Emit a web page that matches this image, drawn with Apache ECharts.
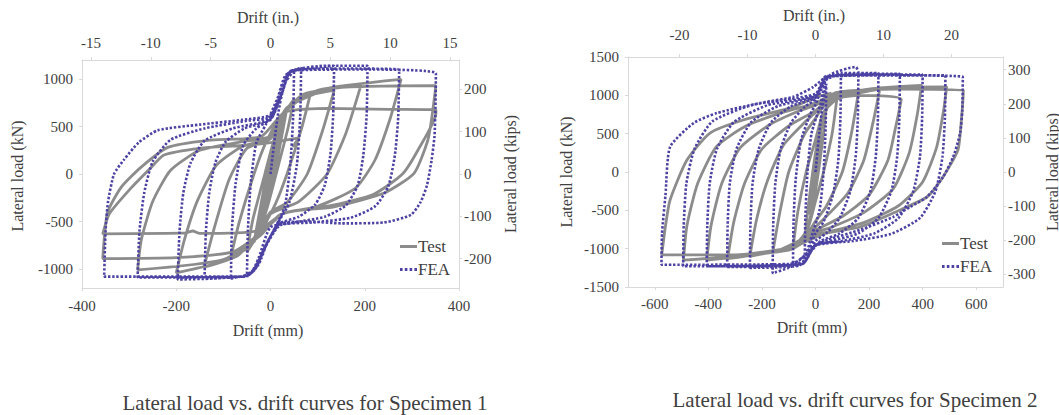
<!DOCTYPE html>
<html>
<head>
<meta charset="utf-8">
<script src="https://cdn.jsdelivr.net/npm/echarts@6/dist/echarts.min.js"></script>
<style>
  html, body { margin: 0; padding: 0; background: #ffffff; }
  #chart { width: 1059px; height: 415px; }
</style>
</head>
<body>
<div id="chart"></div>
<script>
// Lateral load vs. drift hysteresis data, points are [drift (mm), lateral load (kN)]

// Specimen 1, test record
const spec1Test = [
  [0, 0], [8, 190], [15, 360], [9, 170], [0, -40], [-8, -200], [-15, -370], [-9, -170], [0, 40],
  [12, 300], [25, 560], [16, 280], [0, -110], [-12, -330], [-25, -580], [-16, -280], [0, 110],
  [18, 440], [35, 700], [24, 400], [0, -200], [-18, -470], [-35, -720], [-24, -420], [0, 200],
  [25, 600], [50, 790], [36, 460], [12, 0], [-5, -320], [-25, -620], [-50, -820], [-37, -470], [-12, 0], [5, 320], [25, 620],
  [60, 780], [84, 830], [66, 480], [35, 0], [10, -320], [-25, -640], [-55, -800], [-84, -870], [-66, -500], [-35, 0], [-10, 330], [20, 600],
  [60, 800], [135, 880], [112, 480], [78, 0], [35, -300], [0, -400], [-30, -640], [-70, -860], [-141, -980], [-120, -580], [-88, -60], [-50, 270], [0, 370], [25, 620],
  [70, 840], [192, 935], [160, 430], [120, 0], [60, -290], [0, -420], [-30, -650], [-90, -900], [-200, -1040], [-182, -680], [-155, -280], [-115, 90], [-60, 290], [0, 380], [30, 660],
  [100, 880], [277, 995], [255, 600], [222, 150], [180, -150], [100, -340], [20, -430], [-20, -640], [-100, -900], [-282, -1010], [-274, -690], [-250, -290], [-212, 40], [-150, 250], [-60, 340], [0, 400], [35, 700],
  [130, 900], [351, 930], [343, 620], [334, 358], [305, 10], [241, -200], [135, -345], [30, -410], [-20, -620], [-80, -820], [-200, -880], [-356, -890], [-346, -410], [-317, -140], [-275, 70], [-218, 280], [-133, 355], [-20, 395], [30, 650],
  [120, 690], [250, 680], [351, 675], [351, 640], [313, 253], [280, 0], [220, -210], [130, -330], [30, -410], [-30, -600], [-150, -625], [-165, -600], [-180, -620], [-356, -630], [-342, -420], [-300, -170], [-255, 60], [-226, 200], [-150, 270], [-60, 300], [0, 330], [60, 380], [47, 284]
];

// Specimen 1, finite element analysis
const spec1Fea = [
  [0, 0], [15, 600], [30, 950], [50, 1090], [48, 600], [42, 100], [30, -350], [10, -560], [-15, -800], [-32, -1000], [-50, -1080], [-48, -600], [-42, -100], [-30, 330], [-10, 520], [15, 800], [32, 1040],
  [65, 1120], [63, 600], [56, 100], [40, -300], [15, -520], [-15, -800], [-40, -1040], [-84, -1100], [-82, -600], [-74, -100], [-58, 300], [-30, 480], [0, 580], [20, 850], [40, 1070],
  [135, 1140], [133, 620], [127, 200], [115, -120], [95, -320], [60, -450], [20, -520], [-5, -700], [-25, -950], [-50, -1070], [-140, -1100], [-137, -600], [-130, -200], [-117, 120], [-95, 340], [-55, 480], [0, 570], [22, 850], [42, 1080],
  [120, 1140], [206, 1140], [204, 620], [197, 200], [185, -120], [160, -330], [115, -450], [50, -510], [0, -560], [-25, -880], [-45, -1060], [-120, -1100], [-197, -1110], [-193, -600], [-185, -200], [-170, 110], [-140, 350], [-80, 480], [0, 580], [25, 860], [45, 1090],
  [150, 1110], [273, 1100], [271, 600], [264, 200], [250, -130], [222, -340], [170, -460], [90, -510], [20, -540], [-10, -760], [-35, -1000], [-60, -1080], [-282, -1090], [-278, -600], [-268, -200], [-250, 130], [-212, 360], [-140, 480], [-50, 560], [0, 600], [25, 860], [45, 1090],
  [200, 1100], [351, 1060], [350, 700], [348, 400], [342, 150], [332, -120], [318, -300], [298, -430], [241, -510], [150, -520], [80, -500], [20, -520], [-5, -700], [-30, -980], [-55, -1080], [-200, -1080], [-353, -1080], [-350, -600], [-345, -300], [-332, 0], [-311, 150], [-280, 330], [-239, 460], [-150, 520], [-60, 570], [0, 620], [20, 800]
];

// Specimen 2, test record
const spec2Test = [
  [0, 0], [10, 300], [20, 550], [12, 250], [0, -80], [-10, -320], [-20, -560], [-12, -250], [0, 80],
  [20, 550], [40, 850], [28, 450], [0, -250], [-20, -600], [-40, -880], [-28, -480], [0, 250], [20, 600],
  [50, 880], [80, 960], [62, 500], [30, 0], [0, -380], [-30, -750], [-84, -990], [-66, -520], [-35, 0], [0, 420], [30, 780],
  [80, 950], [160, 1030], [135, 520], [100, 0], [40, -450], [0, -640], [-40, -850], [-160, -1060], [-135, -560], [-100, 0], [-40, 500], [0, 700], [35, 880],
  [120, 1000], [240, 1080], [215, 650], [180, 150], [120, -280], [40, -580], [0, -720], [-60, -950], [-245, -1100], [-220, -620], [-180, -120], [-120, 350], [-40, 650], [0, 780], [40, 930],
  [160, 1000], [320, 950], [300, 600], [270, 150], [200, -300], [100, -580], [0, -760], [-80, -980], [-328, -1130], [-305, -650], [-265, -150], [-200, 300], [-100, 600], [0, 800], [50, 950],
  [200, 1080], [396, 1130], [380, 750], [350, 250], [290, -220], [180, -530], [60, -720], [0, -790], [-100, -1010], [-406, -1150], [-390, -700], [-350, -150], [-280, 320], [-170, 620], [-60, 800], [0, 870], [60, 1000],
  [250, 1100], [490, 1110], [478, 800], [452, 320], [400, -130], [310, -440], [180, -660], [50, -780], [0, -820], [-100, -1020], [-493, -1150], [-480, -700], [-440, -150], [-370, 330], [-260, 600], [-120, 780], [0, 900], [80, 1040],
  [300, 1080], [552, 1069], [545, 700], [532, 290], [476, -65], [416, -326], [290, -535], [166, -717], [43, -795], [0, -850], [-84, -980], [-300, -1080], [-574, -1082], [-560, -700], [-543, -365], [-480, 156], [-394, 508], [-270, 678], [-84, 847], [5, 980], [60, 1030]
];

// Specimen 2, finite element analysis
const spec2Fea = [
  [0, 0], [20, 700], [40, 1150], [38, 600], [30, 0], [15, -500], [-20, -900], [-40, -1150], [-38, -600], [-30, 0], [-15, 500], [20, 900],
  [40, 1200], [95, 1280], [93, 700], [85, 150], [65, -300], [30, -650], [0, -800], [-30, -1050], [-84, -1210], [-82, -650], [-74, -100], [-55, 400], [-20, 750], [0, 880], [30, 1150],
  [60, 1280], [150, 1370], [160, 1300], [158, 700], [150, 200], [130, -250], [90, -600], [40, -800], [0, -900], [-40, -1150], [-100, -1250], [-160, -1320], [-158, -700], [-150, -150], [-130, 300], [-90, 650], [-40, 850], [0, 950], [40, 1230],
  [100, 1290], [235, 1290], [233, 700], [225, 200], [205, -250], [160, -600], [90, -800], [20, -900], [-20, -1050], [-60, -1220], [-245, -1250], [-243, -700], [-235, -150], [-212, 300], [-165, 650], [-90, 860], [0, 970], [40, 1230],
  [150, 1280], [315, 1280], [313, 700], [305, 200], [283, -250], [235, -600], [160, -800], [60, -900], [0, -950], [-50, -1200], [-330, -1240], [-328, -700], [-320, -150], [-295, 300], [-240, 650], [-140, 860], [0, 990], [40, 1240],
  [200, 1270], [400, 1270], [398, 700], [390, 200], [365, -250], [310, -600], [220, -800], [100, -900], [0, -950], [-50, -1200], [-406, -1230], [-404, -700], [-395, -150], [-368, 300], [-305, 650], [-180, 870], [0, 1000], [40, 1240],
  [250, 1260], [485, 1260], [483, 700], [474, 200], [448, -250], [390, -600], [280, -810], [140, -900], [0, -960], [-50, -1200], [-494, -1230], [-492, -700], [-482, -150], [-452, 300], [-385, 660], [-240, 870], [0, 1020], [40, 1250],
  [300, 1260], [550, 1240], [548, 800], [540, 508], [514, 196], [476, -65], [416, -326], [353, -456], [290, -587], [166, -756], [43, -886], [-10, -978], [-58, -1147], [-100, -1200], [-575, -1210], [-573, -800], [-560, -300], [-543, 326], [-455, 638], [-368, 769], [-207, 900], [-84, 980], [-9, 1108], [43, 1260]
];

// Tick label values for each axis
const spec1MmTicks = [-400, -200, 0, 200, 400];
const spec1InTicks = [-15, -10, -5, 0, 5, 10, 15];
const spec1KnTicks = [-1000, -500, 0, 500, 1000];
const spec1KipTicks = [-200, -100, 0, 100, 200];
const spec2MmTicks = [-600, -400, -200, 0, 200, 400, 600];
const spec2InTicks = [-20, -10, 0, 10, 20];
const spec2KnTicks = [-1500, -1000, -500, 0, 500, 1000, 1500];
const spec2KipTicks = [-300, -200, -100, 0, 100, 200, 300];

const MM_PER_IN = 25.4;
const KN_PER_KIP = 4.448;

const FONT = "'Liberation Serif', 'Times New Roman', serif";
const TEXT = '#404040';
const FRAME = '#d9d9d9';
const TEST_COLOR = '#8c8c8c';
const FEA_COLOR = '#4b42a3';

// Legend keys: a short solid bar and a row of square dots
const TEST_KEY = 'path://M0,0H17V3H0Z';
const FEA_KEY = 'path://M0,0H2.6V3H0Z M4.8,0H7.4V3H4.8Z M9.6,0H12.2V3H9.6Z M14.4,0H17V3H14.4Z';

function axis(opts) {
  return Object.assign({
    type: 'value',
    scale: false,
    axisLine: { show: true, onZero: false, lineStyle: { color: FRAME, width: 1 } },
    splitLine: { show: false },
    axisTick: { show: true, customValues: opts.ticks, length: 3, lineStyle: { color: FRAME } },
    axisLabel: {
      customValues: opts.ticks, margin: opts.margin,
      color: TEXT, fontFamily: FONT, fontSize: 15,
      formatter: v => String(v)
    }
  }, opts.extra);
}

function title(text, x, y, rotated, size) {
  return {
    type: 'text', x: x, y: y, rotation: rotated ? Math.PI / 2 : 0,
    style: { text: text, fill: TEXT, fontFamily: FONT, fontSize: size || 16, align: 'center', verticalAlign: 'middle' }
  };
}

const chart = echarts.init(document.getElementById('chart'), null, { renderer: 'svg' });

const testLine = { color: TEST_COLOR, width: 2.8, type: 'solid' };
const feaLine = { color: FEA_COLOR, width: 2.6, type: [2.4, 1.8] };

const legendBase = {
  orient: 'vertical', itemWidth: 17, itemHeight: 3, itemGap: 6,
  selectedMode: false,
  data: [{ name: 'Test', icon: TEST_KEY }, { name: 'FEA', icon: FEA_KEY }],
  textStyle: { fontFamily: FONT, fontSize: 17, color: TEXT, padding: [0, 0, 0, -4] }
};

chart.setOption({
  animation: false,
  backgroundColor: '#ffffff',
  textStyle: { fontFamily: FONT },
  grid: [
    { left: 82, top: 60, width: 377, height: 228 },
    { left: 628, top: 57, width: 375, height: 230 }
  ],
  xAxis: [
    axis({ ticks: spec1MmTicks, margin: 10, extra: { gridIndex: 0, position: 'bottom', min: -400, max: 400 } }),
    axis({ ticks: spec1InTicks, margin: 10, extra: { gridIndex: 0, position: 'top', min: -400 / MM_PER_IN, max: 400 / MM_PER_IN } }),
    axis({ ticks: spec2MmTicks, margin: 9, extra: { gridIndex: 1, position: 'bottom', min: -700, max: 700 } }),
    axis({ ticks: spec2InTicks, margin: 15, extra: { gridIndex: 1, position: 'top', min: -700 / MM_PER_IN, max: 700 / MM_PER_IN } })
  ],
  yAxis: [
    axis({ ticks: spec1KnTicks, margin: 9, extra: { gridIndex: 0, position: 'left', min: -1200, max: 1200 } }),
    axis({ ticks: spec1KipTicks, margin: 5, extra: { gridIndex: 0, position: 'right', min: -1200 / KN_PER_KIP, max: 1200 / KN_PER_KIP } }),
    axis({ ticks: spec2KnTicks, margin: 9, extra: { gridIndex: 1, position: 'left', min: -1500, max: 1500 } }),
    axis({ ticks: spec2KipTicks, margin: 5, extra: { gridIndex: 1, position: 'right', min: -1500 / KN_PER_KIP, max: 1500 / KN_PER_KIP } })
  ],
  legend: [
    Object.assign({ left: 395, top: 233 }, legendBase),
    Object.assign({ left: 937, top: 230 }, legendBase)
  ],
  series: [
    { name: 'Test', type: 'line', xAxisIndex: 0, yAxisIndex: 0, data: spec1Test, symbol: 'none', smooth: 0.2, lineStyle: testLine, color: TEST_COLOR },
    { name: 'FEA', type: 'line', xAxisIndex: 0, yAxisIndex: 0, data: spec1Fea, symbol: 'none', smooth: 0.2, lineStyle: feaLine, color: FEA_COLOR },
    { name: 'Test', type: 'line', xAxisIndex: 2, yAxisIndex: 2, data: spec2Test, symbol: 'none', smooth: 0.2, lineStyle: testLine, color: TEST_COLOR },
    { name: 'FEA', type: 'line', xAxisIndex: 2, yAxisIndex: 2, data: spec2Fea, symbol: 'none', smooth: 0.2, lineStyle: feaLine, color: FEA_COLOR }
  ],
  graphic: [
    title('Drift (in.)', 268, 17),
    title('Drift (mm)', 268, 330),
    title('Lateral load (kN)', 17, 176, true),
    title('Lateral load (kips)', 510, 174, true),
    title('Drift (in.)', 814, 15),
    title('Drift (mm)', 812, 327),
    title('Lateral load (kN)', 566, 172, true),
    title('Lateral load (kips)', 1052, 172, true),
    title('Lateral load vs. drift curves for Specimen 1', 305, 403, false, 21),
    title('Lateral load vs. drift curves for Specimen 2', 855, 400, false, 21)
  ]
});
</script>
</body>
</html>
